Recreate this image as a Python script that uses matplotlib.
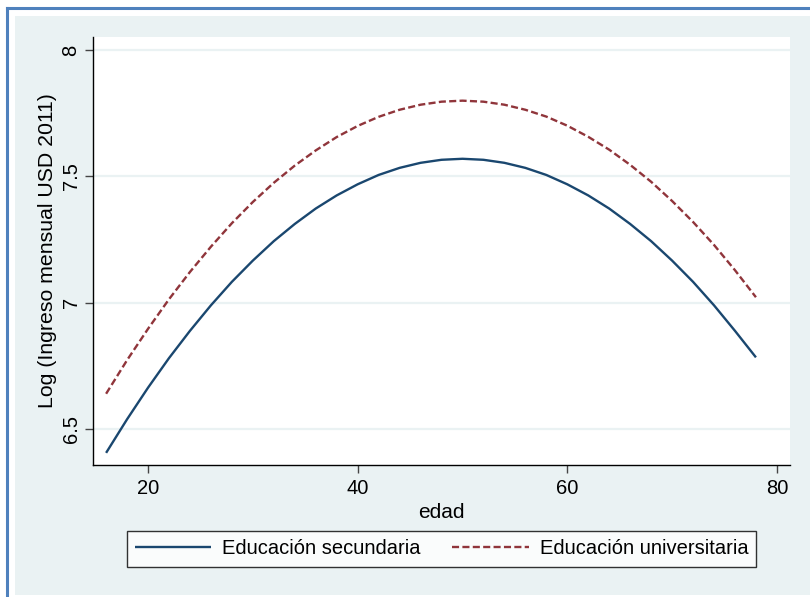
import matplotlib
matplotlib.use("Agg")
import matplotlib.pyplot as plt
from matplotlib.lines import Line2D
from matplotlib.patches import Rectangle

plt.rcParams['font.family'] = ['Liberation Sans', 'DejaVu Sans']

edad = [16, 18, 20, 22, 24, 26, 28, 30, 32, 34, 36, 38, 40, 42, 44, 46, 48,
        50, 52, 54, 56, 58, 60, 62, 64, 66, 68, 70, 72, 74, 76, 78]
secundaria = [6.405, 6.538, 6.663, 6.780, 6.888, 6.989, 7.082, 7.166, 7.243,
              7.311, 7.372, 7.424, 7.468, 7.505, 7.533, 7.553, 7.565, 7.569,
              7.565, 7.553, 7.533, 7.505, 7.468, 7.424, 7.372, 7.311, 7.243,
              7.166, 7.082, 6.989, 6.888, 6.783]
universitaria = [6.639, 6.772, 6.896, 7.013, 7.121, 7.221, 7.314, 7.398, 7.474,
                 7.542, 7.602, 7.655, 7.699, 7.735, 7.763, 7.783, 7.795, 7.799,
                 7.795, 7.783, 7.763, 7.736, 7.700, 7.656, 7.605, 7.545, 7.478,
                 7.402, 7.319, 7.228, 7.128, 7.021]
xticks = [20, 40, 60, 80]
yticks = [6.5, 7, 7.5, 8]
ytick_labels = ['6.5', '7', '7.5', '8']
labels = ['Educación secundaria', 'Educación universitaria']

W, H = 810, 597
fs = 14.5
fig = plt.figure(figsize=(W / 100, H / 100), dpi=100)
fig.patch.set_facecolor('white')

bg = '#EAF2F3'
# graph region
fig.add_artist(Rectangle((15 / W, 1 - 595 / H), (W - 15) / W, (595 - 16) / H,
                         transform=fig.transFigure, facecolor=bg,
                         edgecolor='none', zorder=0))
# blue outer border (left and top)
border = '#4F81BD'
fig.add_artist(Line2D([7 / W, 7 / W], [0, 1 - 8 / H], transform=fig.transFigure,
                      color=border, lw=2.2, zorder=1))
fig.add_artist(Line2D([7 / W, 1], [1 - 8 / H, 1 - 8 / H], transform=fig.transFigure,
                      color=border, lw=2.2, zorder=1))

ax = fig.add_axes([93 / W, 1 - 465 / H, 697 / W, 428 / H])
ax.set_facecolor('white')
ax.set_zorder(2)

ax.plot(edad, secundaria, color='#1A476F', lw=1.7, label=labels[0],
        solid_capstyle='butt')
ax.plot(edad, universitaria, color='#90353B', lw=1.7, label=labels[1],
        linestyle=(0, (3.0, 1.4)))

ax.set_xlim(14.75, 81.25)
ax.set_ylim(6.357, 8.051)
ax.set_xticks(xticks)
ax.set_yticks(yticks)
ax.set_yticklabels(ytick_labels, rotation=90, va='center')
ax.grid(axis='y', color=bg, lw=1.6)
ax.set_axisbelow(True)
for s in ['top', 'right']:
    ax.spines[s].set_visible(False)
for s in ['left', 'bottom']:
    ax.spines[s].set_color('black')
    ax.spines[s].set_linewidth(1.0)
ax.tick_params(axis='both', direction='out', length=6, width=1,
               color='#444444', labelsize=fs, pad=4)
ax.tick_params(axis='y', pad=3)

ax.set_xlabel('edad', fontsize=15, labelpad=4)
ax.set_ylabel('Log (Ingreso mensual USD 2011)', fontsize=15.3, labelpad=3)

leg = fig.legend(loc='center', bbox_to_anchor=(441.5 / W, 1 - 549 / H), ncol=2,
                 fontsize=fs, frameon=True, fancybox=False, handlelength=3.8,
                 handletextpad=0.55, columnspacing=1.55, borderpad=0.4,
                 borderaxespad=0)
leg.get_frame().set_edgecolor('black')
leg.get_frame().set_linewidth(1.0)
leg.get_frame().set_facecolor('white')

fig.savefig('out.png', dpi=100)
